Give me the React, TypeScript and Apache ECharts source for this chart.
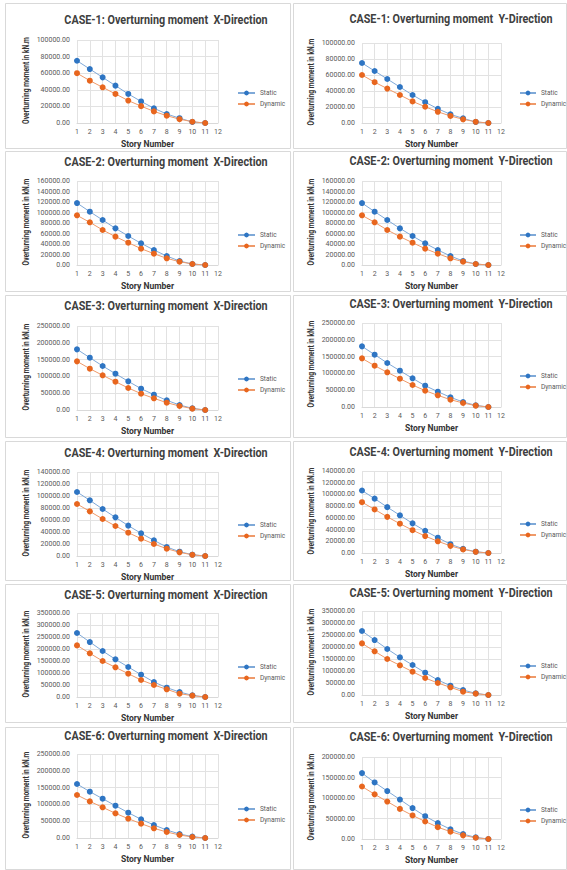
import React, { useEffect, useRef } from "react";
import * as echarts from "echarts";

const stories = ["1", "2", "3", "4", "5", "6", "7", "8", "9", "10", "11", "12"];

const case1Static = [75000, 65000, 55000, 45000, 35000, 26000, 17800, 10800, 5800, 1300, 0];
const case1Dynamic = [60000, 51000, 43000, 35000, 27000, 20300, 14000, 8800, 4600, 1500, 0];
const case2Static = [118000, 101600, 85700, 69800, 55200, 41300, 28600, 17100, 7600, 1900, 0];
const case2Dynamic = [94600, 81300, 66700, 54000, 42500, 31100, 21600, 12700, 6300, 1900, 0];
const case3Static = [180500, 155700, 131000, 108000, 85300, 63500, 45600, 28800, 14900, 5000, 0];
const case3Dynamic = [144800, 123000, 103200, 84300, 65500, 48600, 34700, 21800, 11900, 4000, 0];
const case4Static = [106700, 92800, 78300, 64400, 50600, 37800, 26100, 15000, 7200, 2200, 0];
const case4Dynamic = [86700, 74400, 61700, 50000, 38900, 28900, 20000, 12200, 6100, 2000, 0];
const case5Static = [266700, 229000, 191700, 157000, 125000, 93000, 62500, 38900, 20800, 6900, 0];
const case5Dynamic = [215000, 182000, 150000, 123600, 97200, 70800, 50000, 32000, 13900, 5600, 0];
const case6Static = [160700, 137900, 117000, 96200, 75400, 55600, 38700, 23800, 11900, 4000, 0];
const case6Dynamic = [128000, 109000, 91300, 73400, 57500, 42700, 28800, 17900, 8900, 3000, 0];

const chartTitles = [
  "CASE-1: Overturning moment  X-Direction",
  "CASE-1: Overturning moment  Y-Direction",
  "CASE-2: Overturning moment  X-Direction",
  "CASE-2: Overturning moment  Y-Direction",
  "CASE-3: Overturning moment  X-Direction",
  "CASE-3: Overturning moment  Y-Direction",
  "CASE-4: Overturning moment  X-Direction",
  "CASE-4: Overturning moment  Y-Direction",
  "CASE-5: Overturning moment  X-Direction",
  "CASE-5: Overturning moment  Y-Direction",
  "CASE-6: Overturning moment  X-Direction",
  "CASE-6: Overturning moment  Y-Direction",
];
const yMaxes = [100000, 100000, 160000, 160000, 250000, 250000, 140000, 140000, 350000, 350000, 250000, 200000];
const yIntervals = [20000, 20000, 20000, 20000, 50000, 50000, 20000, 20000, 50000, 50000, 50000, 50000];
const staticSeries = [case1Static, case1Static, case2Static, case2Static, case3Static, case3Static, case4Static, case4Static, case5Static, case5Static, case6Static, case6Static];
const dynamicSeries = [case1Dynamic, case1Dynamic, case2Dynamic, case2Dynamic, case3Dynamic, case3Dynamic, case4Dynamic, case4Dynamic, case5Dynamic, case5Dynamic, case6Dynamic, case6Dynamic];

const seriesNames = ["Static", "Dynamic"];
const yName = "Overturning moment in kN.m";
const xName = "Story Number";

// layout (page pixels)
const layout = [
  { top: 40, bottom: 123, ty: 20, ly: 89, box: [3, 148] },
  { top: 43, bottom: 123, ty: 19, ly: 89, box: [3, 148] },
  { top: 181, bottom: 265, ty: 162, ly: 231, box: [151, 291] },
  { top: 181, bottom: 265, ty: 161, ly: 231, box: [151, 291] },
  { top: 326, bottom: 410, ty: 306, ly: 375, box: [295, 437] },
  { top: 323, bottom: 407, ty: 304, ly: 372, box: [295, 437] },
  { top: 472, bottom: 556, ty: 453, ly: 521, box: [441, 580] },
  { top: 471, bottom: 553, ty: 452, ly: 520, box: [441, 580] },
  { top: 613, bottom: 697, ty: 595, ly: 663, box: [584, 722] },
  { top: 611, bottom: 695, ty: 593, ly: 662, box: [584, 722] },
  { top: 754, bottom: 838, ty: 736, ly: 805, box: [727, 869] },
  { top: 757, bottom: 839, ty: 737, ly: 806, box: [727, 869] },
];
const colLayout = [
  { gl: 77, gw: 141, cx: 166, lx: 232, iw: 17, bx0: 5, bx1: 290, nx: 26 },
  { gl: 362, gw: 139, cx: 451, lx: 514, iw: 16, bx0: 293, bx1: 566, nx: 311 },
];

const BOLD_FONT = "Roboto, 'Liberation Sans', sans-serif";
const LABEL_FONT = "Roboto, 'Liberation Sans', sans-serif";
const BLUE = "#2e75c3";
const ORANGE = "#e8661e";

export default function App() {
  const ref = useRef<HTMLDivElement>(null);
  useEffect(() => {
    if (!ref.current) return;
    const chart = echarts.init(ref.current, null, { renderer: "svg" });
    const grids: any[] = [];
    const xAxes: any[] = [];
    const yAxes: any[] = [];
    const legends: any[] = [];
    const series: any[] = [];
    const graphics: any[] = [];
    chartTitles.forEach((t, i) => {
      const L = layout[i];
      const C = colLayout[i % 2];
      graphics.push({
        type: "rect",
        shape: { x: C.bx0 + 0.5, y: L.box[0] + 0.5, width: C.bx1 - C.bx0, height: L.box[1] - L.box[0] },
        style: { fill: "none", stroke: "#d9d9d9", lineWidth: 1 },
        z: 0,
      });
      graphics.push({
        type: "text",
        x: C.cx,
        y: L.ty,
        scaleX: 0.83,
        style: {
          text: t,
          fontSize: 13,
          fontWeight: "bold",
          fontFamily: BOLD_FONT,
          fill: "#404040",
          textAlign: "center",
          align: "center",
          textVerticalAlign: "middle",
          verticalAlign: "middle",
        },
      });
      graphics.push({
        type: "text",
        x: C.nx,
        y: (L.top + L.bottom) / 2 - 1,
        rotation: Math.PI / 2,
        scaleX: 0.74,
        style: {
          text: yName,
          fontSize: 9,
          fontWeight: "bold",
          fontFamily: BOLD_FONT,
          fill: "#333333",
          textAlign: "center",
          align: "center",
          textVerticalAlign: "middle",
          verticalAlign: "middle",
        },
      });
      grids.push({ left: C.gl, top: L.top, width: C.gw, height: L.bottom - L.top });
      xAxes.push({
        type: "category",
        gridIndex: i,
        data: stories,
        boundaryGap: false,
        axisTick: { show: false },
        axisLine: { lineStyle: { color: "#d9d9d9" } },
        axisLabel: { fontSize: 7, color: "#595959", margin: 5, interval: 0, fontFamily: LABEL_FONT },
        splitLine: { show: true, lineStyle: { color: "#e2e2e2" } },
        name: xName,
        nameLocation: "middle",
        nameGap: 16,
        nameTextStyle: { fontFamily: BOLD_FONT, fontWeight: "bold", fontSize: 8.5, color: "#333333" },
      });
      yAxes.push({
        type: "value",
        gridIndex: i,
        min: 0,
        max: yMaxes[i],
        interval: yIntervals[i],
        axisLine: { show: false },
        axisTick: { show: false },
        axisLabel: { fontSize: 7, color: "#595959", margin: 7, fontFamily: LABEL_FONT, formatter: (v: number) => v.toFixed(2) },
        splitLine: { show: true, lineStyle: { color: "#e2e2e2" } },
      });
      legends.push({
        orient: "vertical",
        left: C.lx,
        top: L.ly - 4.5,
        itemWidth: C.iw,
        itemHeight: 6,
        itemGap: 4,
        textStyle: { fontSize: 6.5, color: "#595959", fontFamily: LABEL_FONT },
        data: seriesNames,
      });
      [staticSeries[i], dynamicSeries[i]].forEach((d, k) => {
        series.push({
          type: "line",
          name: seriesNames[k],
          xAxisIndex: i,
          yAxisIndex: i,
          data: d,
          symbol: "circle",
          symbolSize: 6,
          itemStyle: { color: k === 0 ? BLUE : ORANGE },
          lineStyle: { width: 1, color: k === 0 ? "#7fa9d8" : "#ef9a6a" },
        });
      });
    });
    chart.setOption({
      animation: false,
      backgroundColor: "#ffffff",
      grid: grids,
      xAxis: xAxes,
      yAxis: yAxes,
      legend: legends,
      series,
      graphic: graphics,
    });
    return () => chart.dispose();
  }, []);
  return (
    <div
      ref={ref}
      style={{ position: "fixed", left: 0, top: 0, width: 567, height: 870, background: "#fff" }}
    />
  );
}
